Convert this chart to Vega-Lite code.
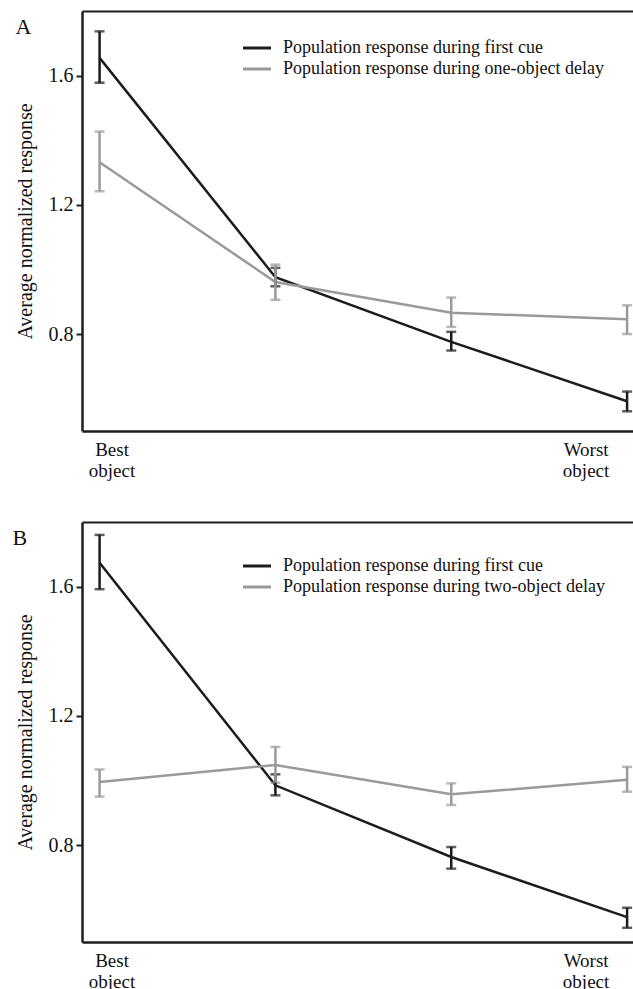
{
  "$schema": "https://vega.github.io/schema/vega-lite/v6.json",
  "padding": {"left": 12, "top": 11, "right": 0, "bottom": 0},
  "spacing": 42,
  "config": {
    "view": {"stroke": null},
    "font": "Liberation Serif",
    "axis": {"grid": false, "labelFont": "Liberation Serif", "titleFont": "Liberation Serif", "labelColor": "#111", "titleColor": "#111", "domainColor": "#1e1e1e", "tickColor": "#1e1e1e", "titleFontWeight": "normal"},
    "legend": {"labelFont": "Liberation Serif", "labelColor": "#111"}
  },
  "resolve": {"scale": {"color": "independent"}, "legend": {"color": "independent"}},
  "datasets": {
    "resp": [
      {"panel": "A", "series": "Population response during first cue", "obj": 1, "mean": 1.655, "lo": 1.578, "hi": 1.737},
      {"panel": "A", "series": "Population response during first cue", "obj": 2, "mean": 0.976, "lo": 0.948, "hi": 1.005},
      {"panel": "A", "series": "Population response during first cue", "obj": 3, "mean": 0.776, "lo": 0.749, "hi": 0.807},
      {"panel": "A", "series": "Population response during first cue", "obj": 4, "mean": 0.592, "lo": 0.561, "hi": 0.622},
      {"panel": "A", "series": "Population response during one-object delay", "obj": 1, "mean": 1.332, "lo": 1.242, "hi": 1.427},
      {"panel": "A", "series": "Population response during one-object delay", "obj": 2, "mean": 0.961, "lo": 0.906, "hi": 1.015},
      {"panel": "A", "series": "Population response during one-object delay", "obj": 3, "mean": 0.866, "lo": 0.822, "hi": 0.913},
      {"panel": "A", "series": "Population response during one-object delay", "obj": 4, "mean": 0.846, "lo": 0.8, "hi": 0.889},
      {"panel": "B", "series": "Population response during first cue", "obj": 1, "mean": 1.674, "lo": 1.592, "hi": 1.76},
      {"panel": "B", "series": "Population response during first cue", "obj": 2, "mean": 0.985, "lo": 0.954, "hi": 1.019},
      {"panel": "B", "series": "Population response during first cue", "obj": 3, "mean": 0.763, "lo": 0.727, "hi": 0.794},
      {"panel": "B", "series": "Population response during first cue", "obj": 4, "mean": 0.577, "lo": 0.544, "hi": 0.606},
      {"panel": "B", "series": "Population response during two-object delay", "obj": 1, "mean": 0.995, "lo": 0.95, "hi": 1.034},
      {"panel": "B", "series": "Population response during two-object delay", "obj": 2, "mean": 1.048, "lo": 0.993, "hi": 1.104},
      {"panel": "B", "series": "Population response during two-object delay", "obj": 3, "mean": 0.957, "lo": 0.924, "hi": 0.991},
      {"panel": "B", "series": "Population response during two-object delay", "obj": 4, "mean": 1.002, "lo": 0.965, "hi": 1.042}
    ]
  },
  "vconcat": [
    {
      "width": 553,
      "height": 420,
      "data": {"name": "resp"},
      "transform": [{"filter": "datum.panel == 'A'"}],
      "resolve": {"axis": {"x": "independent"}},
      "layer": [
        {
          "mark": {"type": "line", "strokeWidth": 2.5},
          "encoding": {
            "x": {"field": "obj", "type": "quantitative", "scale": {"domain": [0.9, 4.045], "nice": false, "zero": false},
              "axis": {"orient": "bottom", "values": [1.068, 3.764], "labelExpr": "datum.value < 2 ? ['Best', 'object'] : ['Worst', 'object']", "ticks": false, "labelPadding": 9, "labelBaseline": "top", "labelFont": "Liberation Serif", "labelFontSize": 19, "labelLineHeight": 21, "labelBound": false, "labelFlush": false, "labelOverlap": false, "domainWidth": 2.5, "title": null}},
            "y": {"field": "mean", "type": "quantitative", "scale": {"domain": [0.5, 1.8], "nice": false, "zero": false},
              "axis": {"title": "Average normalized response", "titleFont": "Liberation Serif", "titleFontWeight": "normal", "labelFont": "Liberation Serif", "values": [0.8, 1.2, 1.6], "format": ".1f", "titleFontSize": 20, "titlePadding": 13, "labelFontSize": 20, "labelPadding": 3, "tickSize": 6, "tickWidth": 2, "domainWidth": 2.5}},
            "color": {"field": "series", "type": "nominal",
              "scale": {"domain": ["Population response during first cue", "Population response during one-object delay"], "range": ["#1c1c1c", "#9a9a9a"]},
              "legend": {"title": null, "orient": "none", "legendX": 166, "legendY": 28, "symbolType": "M-3,0H3", "symbolSize": 87, "symbolStrokeWidth": 3, "labelFont": "Liberation Serif", "labelFontSize": 18, "labelLimit": 400, "labelOffset": 17, "rowPadding": 3}}
          }
        },
        {
          "mark": {"type": "errorbar", "ticks": {"size": 10}, "thickness": 2.5},
          "encoding": {
            "x": {"field": "obj", "type": "quantitative", "scale": {"domain": [0.9, 4.045], "nice": false, "zero": false},
              "axis": {"orient": "top", "labels": false, "ticks": false, "domainWidth": 2, "grid": false, "title": "A", "titleFont": "Liberation Serif", "titleFontWeight": "normal", "titleX": -67, "titleY": 22, "titleAngle": 0, "titleAlign": "left", "titleBaseline": "alphabetic", "titleFontSize": 22}},
            "y": {"field": "lo", "type": "quantitative", "scale": {"domain": [0.5, 1.8], "nice": false, "zero": false},
              "axis": {"title": "Average normalized response", "titleFont": "Liberation Serif", "titleFontWeight": "normal", "labelFont": "Liberation Serif", "values": [0.8, 1.2, 1.6], "format": ".1f", "titleFontSize": 20, "titlePadding": 13, "labelFontSize": 20, "labelPadding": 3, "tickSize": 6, "tickWidth": 2, "domainWidth": 2.5}},
            "y2": {"field": "hi"},
            "color": {"field": "series", "type": "nominal", "legend": null}
          }
        }
      ]
    },
    {
      "width": 553,
      "height": 420,
      "data": {"name": "resp"},
      "transform": [{"filter": "datum.panel == 'B'"}],
      "resolve": {"axis": {"x": "independent"}},
      "layer": [
        {
          "mark": {"type": "line", "strokeWidth": 2.5},
          "encoding": {
            "x": {"field": "obj", "type": "quantitative", "scale": {"domain": [0.9, 4.045], "nice": false, "zero": false},
              "axis": {"orient": "bottom", "values": [1.068, 3.764], "labelExpr": "datum.value < 2 ? ['Best', 'object'] : ['Worst', 'object']", "ticks": false, "labelPadding": 9, "labelBaseline": "top", "labelFont": "Liberation Serif", "labelFontSize": 19, "labelLineHeight": 21, "labelBound": false, "labelFlush": false, "labelOverlap": false, "domainWidth": 2.5, "title": null}},
            "y": {"field": "mean", "type": "quantitative", "scale": {"domain": [0.5, 1.8], "nice": false, "zero": false},
              "axis": {"title": "Average normalized response", "titleFont": "Liberation Serif", "titleFontWeight": "normal", "labelFont": "Liberation Serif", "values": [0.8, 1.2, 1.6], "format": ".1f", "titleFontSize": 20, "titlePadding": 13, "labelFontSize": 20, "labelPadding": 3, "tickSize": 6, "tickWidth": 2, "domainWidth": 2.5}},
            "color": {"field": "series", "type": "nominal",
              "scale": {"domain": ["Population response during first cue", "Population response during two-object delay"], "range": ["#1c1c1c", "#9a9a9a"]},
              "legend": {"title": null, "orient": "none", "legendX": 166, "legendY": 35, "symbolType": "M-3,0H3", "symbolSize": 87, "symbolStrokeWidth": 3, "labelFont": "Liberation Serif", "labelFontSize": 18, "labelLimit": 400, "labelOffset": 17, "rowPadding": 3}}
          }
        },
        {
          "mark": {"type": "errorbar", "ticks": {"size": 10}, "thickness": 2.5},
          "encoding": {
            "x": {"field": "obj", "type": "quantitative", "scale": {"domain": [0.9, 4.045], "nice": false, "zero": false},
              "axis": {"orient": "top", "labels": false, "ticks": false, "domainWidth": 2, "grid": false, "title": "B", "titleFont": "Liberation Serif", "titleFontWeight": "normal", "titleX": -70, "titleY": 22, "titleAngle": 0, "titleAlign": "left", "titleBaseline": "alphabetic", "titleFontSize": 22}},
            "y": {"field": "lo", "type": "quantitative", "scale": {"domain": [0.5, 1.8], "nice": false, "zero": false},
              "axis": {"title": "Average normalized response", "titleFont": "Liberation Serif", "titleFontWeight": "normal", "labelFont": "Liberation Serif", "values": [0.8, 1.2, 1.6], "format": ".1f", "titleFontSize": 20, "titlePadding": 13, "labelFontSize": 20, "labelPadding": 3, "tickSize": 6, "tickWidth": 2, "domainWidth": 2.5}},
            "y2": {"field": "hi"},
            "color": {"field": "series", "type": "nominal", "legend": null}
          }
        }
      ]
    }
  ]
}
